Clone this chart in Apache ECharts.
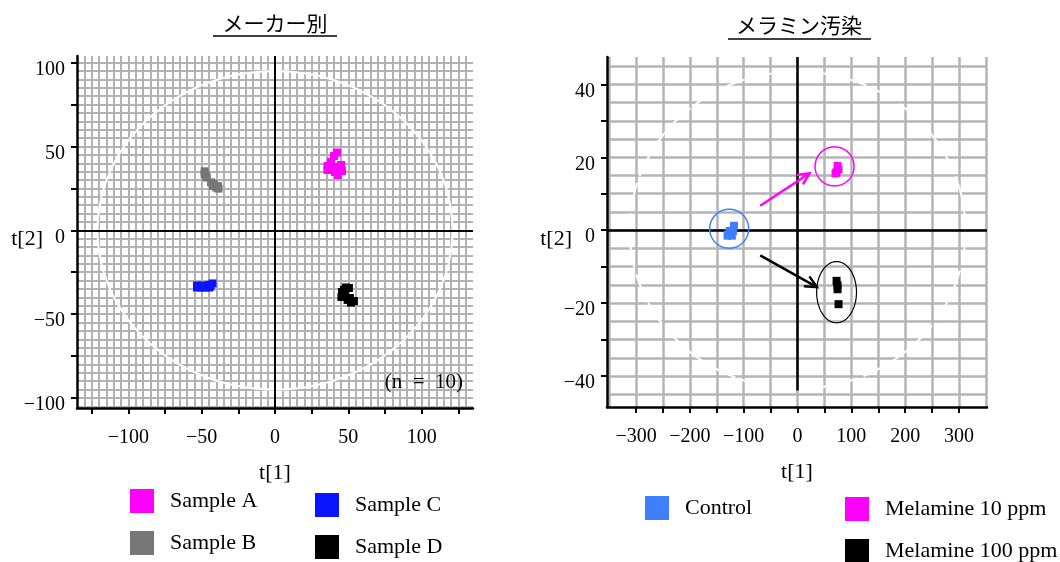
<!DOCTYPE html>
<html><head><meta charset="utf-8">
<script src="https://cdn.jsdelivr.net/npm/echarts@6/dist/echarts.min.js"></script>
<style>html,body{margin:0;padding:0;background:#fff}#c{width:1060px;height:562px}</style>
</head><body><div id="c"></div>
<script>
// ---------------- data ----------------
// Left panel: メーカー別 (PCA scores t[1], t[2])
const sampleA = [[42.3,46.4],[40.2,44.3],[38.2,40.8],[35.8,38.4],[35.8,36.0],[40.2,37.8],[45.0,39.0],[45.7,35.4],[42.9,33.0],[40.9,34.8]];
const sampleB = [[-48,35.2],[-48,33.6],[-47,32.4],[-46.5,31.5],[-43.6,28.6],[-41.6,27.6],[-38.9,26.4],[-38.5,24.9],[-42.3,26.4],[-40,25.5]];
const sampleC = [[-53.2,-34.1],[-50.4,-34.1],[-47.7,-34.1],[-45,-34.1],[-53.2,-32.9],[-49.1,-32.9],[-42.6,-31.7],[-45,-32.6],[-51.5,-33.5],[-44,-33.5]];
const sampleD = [[48.4,-34.1],[50.4,-34.4],[45.7,-36.8],[47.7,-39.2],[45.3,-39.8],[51.1,-40.4],[53.8,-42.2],[51.8,-43.1],[47,-35.5],[49.5,-41.5]];
// Right panel: メラミン汚染
const control = [[-118,1.2],[-130,-1.5],[-122,-1.5],[-126,-0.2],[-120,-0.3],[-129,-1.2]];
const melamine10 = [[74.3,17.6],[72.5,15.9],[76,16.7],[70.6,15.6]];
const melamine100 = [[72.5,-13.9],[74.3,-15.1],[74.3,-16.2],[76.2,-20.3]];

// Annotations: ellipses [cx, cy, rx, ry] in data units; arrows [x1, y1, x2, y2]
const hotellingLeft = [[0,0,121,95]];
const hotellingRight = [[0,0,312,43.5]];
const controlRing = [[-127,0.4,36.2,5.35]];
const melamine10Ring = [[68.8,17.5,36.2,5.35]];
const melamine100Ring = [[72.5,-17,37,8.4]];
const arrowTo10 = [[-69.3,6.7,22.3,15.6]];
const arrowTo100 = [[-69.3,-6.9,35.9,-15.6]];

// Ticks & labels
const leftXTicks = [-125,-100,-75,-50,-25,0,25,50,75,100,125];
const leftXLabels = [-100,-50,0,50,100];
const leftYTicks = [-100,-75,-50,-25,0,25,50,75,100];
const leftYLabels = [-100,-50,0,50,100];
const rightXTicks = [-300,-250,-200,-150,-100,-50,0,50,100,150,200,250,300];
const rightXLabels = [-300,-200,-100,0,100,200,300];
const rightYTicks = [-40,-30,-20,-10,0,10,20,30,40];
const rightYLabels = [-40,-20,0,20,40];

// ---------------- chart ----------------
const SERIF = "'Liberation Serif', 'DejaVu Serif', serif";
const JP = "'Noto Sans CJK JP', sans-serif";
const fmt = v => v < 0 ? '\u2212' + Math.abs(v) : String(v);
function range(a, b, s) { const r = []; for (let v = a; v <= b + 1e-9; v += s) r.push(+v.toFixed(6)); return r; }
const leftGridX = range(-130, 130, 5), leftGridY = range(-105, 100, 5);
const rightGridX = range(-350, 350, 50), rightGridY = range(-45, 45, 5);

function mainX(gi, min, max, ticks, labels) {
  return { type:'value', gridIndex:gi, min, max, position:'bottom',
    axisLine:{show:true,onZero:false,lineStyle:{color:'#000',width:2.5}},
    axisTick:{show:true,customValues:ticks,length:6,lineStyle:{color:'#000',width:2}},
    axisLabel:{show:true,customValues:labels,formatter:fmt,color:'#000',fontFamily:SERIF,fontSize:20,margin:20},
    splitLine:{show:false},
    name:'t[1]', nameLocation:'middle', nameGap:54, nameMoveOverlap:false,
    nameTextStyle:{color:'#000',fontFamily:SERIF,fontSize:22} };
}
function mainY(gi, min, max, ticks, labels, gap) {
  return { type:'value', gridIndex:gi, min, max, position:'left',
    axisLine:{show:true,onZero:false,lineStyle:{color:'#000',width:2.5}},
    axisTick:{show:true,customValues:ticks,length:6,lineStyle:{color:'#000',width:2}},
    axisLabel:{show:true,customValues:labels,formatter:fmt,color:'#000',fontFamily:SERIF,fontSize:20,margin:12,
      verticalAlign:'top',lineHeight:14},
    splitLine:{show:false},
    name:'t[2]', nameLocation:'middle', nameGap:gap, nameRotate:0, nameMoveOverlap:false,
    nameTextStyle:{color:'#000',fontFamily:SERIF,fontSize:22,verticalAlign:'top',lineHeight:14} };
}
function gridAxis(type, gi, min, max, vals, color, width) {
  return { type:'value', gridIndex:gi, min, max,
    axisLine:{show:false,onZero:false}, axisLabel:{show:false},
    axisTick:{show:false,customValues:vals},
    splitLine:{show:true,lineStyle:{color,width}} };
}
function ellipseSeries(data, xi, yi, color, width, dash, z) {
  return { type:'custom', xAxisIndex:xi, yAxisIndex:yi, z, silent:true, clip:false, data,
    renderItem(params, api) {
      const cx = api.value(0), cy = api.value(1), rx = api.value(2), ry = api.value(3);
      const pts = [];
      for (let i = 0; i <= 180; i++) { const t = i / 180 * 2 * Math.PI; pts.push(api.coord([cx + rx * Math.cos(t), cy + ry * Math.sin(t)])); }
      return { type:'polyline', shape:{points:pts}, style:{fill:null, stroke:color, lineWidth:width, lineDash:dash} };
    } };
}
function arrowSeries(data, xi, yi, color) {
  return { type:'custom', xAxisIndex:xi, yAxisIndex:yi, z:8, silent:true, clip:false, data,
    renderItem(params, api) {
      const p1 = api.coord([api.value(0), api.value(1)]), p2 = api.coord([api.value(2), api.value(3)]);
      const a = Math.atan2(p2[1] - p1[1], p2[0] - p1[0]), L = 13, w = 0.45;
      const h1 = [p2[0] - L * Math.cos(a - w), p2[1] - L * Math.sin(a - w)];
      const h2 = [p2[0] - L * Math.cos(a + w), p2[1] - L * Math.sin(a + w)];
      return { type:'group', children:[
        { type:'line', shape:{x1:p1[0],y1:p1[1],x2:p2[0],y2:p2[1]}, style:{stroke:color,lineWidth:2.5} },
        { type:'polyline', shape:{points:[h1,p2,h2]}, style:{stroke:color,lineWidth:2.5,fill:null} } ] };
    } };
}
function scatter(name, data, xi, yi, color) {
  return { type:'scatter', name, data, xAxisIndex:xi, yAxisIndex:yi, z:10,
    symbol:'rect', symbolSize:8, itemStyle:{color, opacity:1}, silent:true };
}
const legendText = {color:'#000',fontFamily:SERIF,fontSize:22,padding:[0,0,0,11]};
function legend(names, left, top) {
  return { data:names, left, top, height:90, padding:0, orient:'vertical', icon:'rect', itemWidth:24, itemHeight:24,
    itemGap:18, selectedMode:false, textStyle:legendText, itemStyle:{opacity:1} };
}

const chart = echarts.init(document.getElementById('c'), null, {renderer:'canvas'});
chart.setOption({
  animation:false,
  backgroundColor:'#fff',
  title:[
    {text:'メーカー別', left:275, top:13, textAlign:'center', padding:0,
     textStyle:{fontFamily:JP,fontSize:21,fontWeight:'normal',color:'#000'}},
    {text:'メラミン汚染', left:799, top:15, textAlign:'center', padding:0,
     textStyle:{fontFamily:JP,fontSize:21,fontWeight:'normal',color:'#000'}}
  ],
  grid:[
    {left:77, top:56, width:396, height:352, outerBoundsMode:'none', containLabel:false},
    {left:607, top:57, width:380, height:350, outerBoundsMode:'none', containLabel:false}
  ],
  xAxis:[
    mainX(0, -135, 135, leftXTicks, leftXLabels),
    gridAxis('x', 0, -135, 135, leftGridX, '#b2b2b2', 2),
    mainX(1, -354, 352, rightXTicks, rightXLabels),
    gridAxis('x', 1, -354, 352, rightGridX, '#b4b4b4', 2.5)
  ],
  yAxis:[
    mainY(0, -106, 104, leftYTicks, leftYLabels, 34),
    gridAxis('y', 0, -106, 104, leftGridY, '#b2b2b2', 2),
    mainY(1, -48.5, 47.5, rightYTicks, rightYLabels, 35),
    gridAxis('y', 1, -48.5, 47.5, rightGridY, '#b4b4b4', 2.5)
  ],
  legend:[
    legend(['Sample A','Sample B'], 130, 489),
    legend(['Sample C','Sample D'], 315, 493),
    legend(['Control'], 645, 496),
    legend(['Melamine 10 ppm','Melamine 100 ppm'], 845, 497)
  ],
  graphic:[
    {type:'line', shape:{x1:213,y1:36,x2:337,y2:36}, style:{stroke:'#000',lineWidth:1.5}},
    {type:'line', shape:{x1:728,y1:39,x2:871,y2:39}, style:{stroke:'#000',lineWidth:1.5}},
    {type:'text', x:463, y:382, z:20, style:{text:'(n\u2002=\u200210)', textAlign:'right', textVerticalAlign:'middle',
      font:"21px 'Liberation Serif', serif", fill:'#000'}}
  ],
  series:[
    ellipseSeries(hotellingLeft, 0, 0, '#ffffff', 2, null, 2),
    ellipseSeries(hotellingRight, 2, 2, '#ffffff', 2, [24,7], 2),
    { type:'line', xAxisIndex:0, yAxisIndex:0, data:[], silent:true,
      markLine:{silent:true, symbol:'none', label:{show:false}, animation:false, z:4,
        lineStyle:{color:'#000', width:2, type:'solid'}, data:[{xAxis:0},{yAxis:0}]} },
    { type:'line', xAxisIndex:2, yAxisIndex:2, data:[], silent:true,
      markLine:{silent:true, symbol:'none', label:{show:false}, animation:false, z:4,
        lineStyle:{color:'#000', width:2.5, type:'solid'},
        data:[{yAxis:0}, [{coord:[0,47.5]},{coord:[0,-44]}]]} },
    scatter('Sample A', sampleA, 0, 0, '#ff00ff'),
    scatter('Sample B', sampleB, 0, 0, '#777777'),
    scatter('Sample C', sampleC, 0, 0, '#0a14ff'),
    scatter('Sample D', sampleD, 0, 0, '#000000'),
    scatter('Control', control, 2, 2, '#3f7fff'),
    scatter('Melamine 10 ppm', melamine10, 2, 2, '#ff00ff'),
    scatter('Melamine 100 ppm', melamine100, 2, 2, '#000000'),
    ellipseSeries(controlRing, 2, 2, '#3f7fff', 1.5, null, 8),
    ellipseSeries(melamine10Ring, 2, 2, '#ff00ff', 1.5, null, 8),
    ellipseSeries(melamine100Ring, 2, 2, '#000000', 1.2, null, 8),
    arrowSeries(arrowTo10, 2, 2, '#ff00ff'),
    arrowSeries(arrowTo100, 2, 2, '#000000')
  ]
});
</script></body></html>
